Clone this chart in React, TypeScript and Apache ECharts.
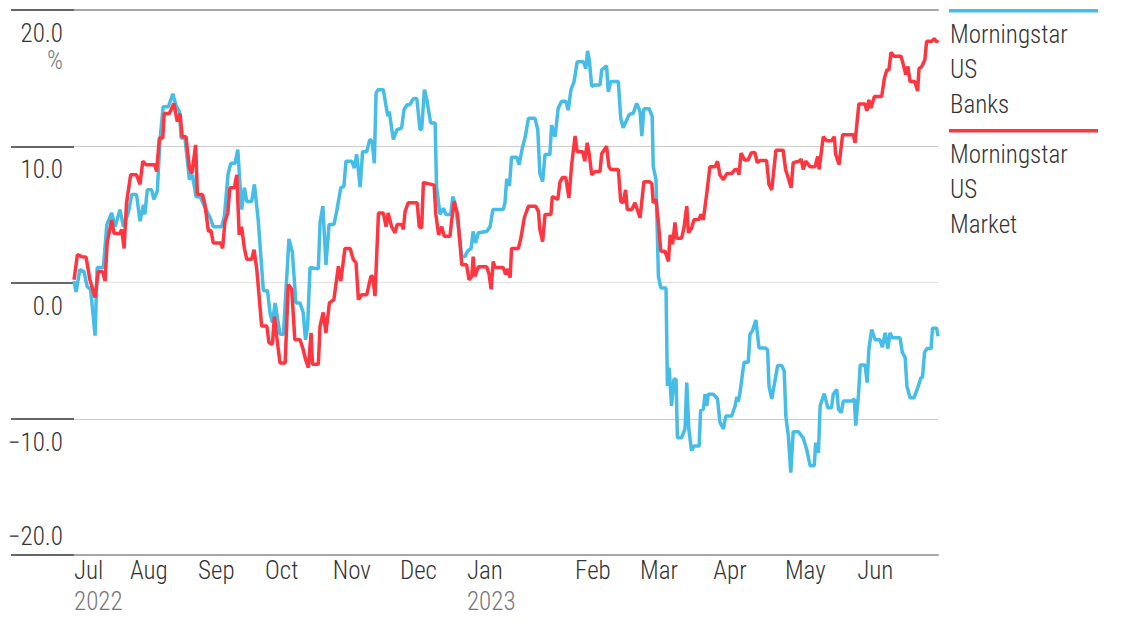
import React, { useEffect, useRef } from 'react';
import * as echarts from 'echarts';

const seriesNames = ['Morningstar US Banks', 'Morningstar US Market'];
const seriesColors = ['#45BDE6', '#FF3540'];
const yTicks = [-20, -10, 0, 10, 20];
const monthNames = ['Jul', 'Aug', 'Sep', 'Oct', 'Nov', 'Dec', 'Jan', 'Feb', 'Mar', 'Apr', 'May', 'Jun'];
const monthYears = ['2022', '', '', '', '', '', '2023', '', '', '', '', ''];
// trading-day index where each month label starts
const monthLabelDay = [0, 16.2, 35.9, 55.3, 74.9, 94.3, 113.7, 145.0, 163.8, 185.0, 205.7, 226.6];

// [trading day since 30 Jun 2022, cumulative return %]
const bankPoints = [[0,0.1],[0.6,-0.7],[1.7,0.95],[2.9,0.8],[3.8,-0.3],[4.8,-0.5],[6.1,-3.9],[6.7,1.1],[8.5,1.1],[9.5,4.25],[10.9,5.1],[11.9,4.1],[13.3,5.35],[14.3,4.1],[15.7,5.1],[16.7,6.45],[18.1,6.45],[19.1,4.5],[20.1,5.7],[20.5,5.0],[21.2,6.8],[22.5,6.8],[23.1,6.1],[24.1,6.7],[24.9,10.5],[25.8,12.9],[27.3,12.9],[28.6,13.85],[29.5,13.0],[30.5,12.55],[31.0,10.6],[32.1,10.6],[33.4,7.55],[34.3,7.9],[35.3,6.3],[36.5,6.3],[37.9,5.5],[39.4,4.75],[40.3,4.1],[42.7,4.1],[43.5,4.85],[44.6,8.0],[45.4,8.75],[46.6,8.75],[47.4,9.75],[48.0,7.3],[48.5,5.35],[49.3,6.95],[50.0,5.95],[51.4,5.95],[52.2,7.2],[53.3,4.6],[54.8,-0.6],[56.0,-0.6],[56.7,-2.2],[57.4,-2.95],[58.2,-1.5],[59.6,-3.8],[60.6,-3.8],[61.3,-0.75],[62.2,3.2],[63.2,2.2],[64.2,-1.5],[65.4,-1.5],[66.3,-2.2],[67.0,-4.2],[67.6,-3.2],[68.3,1.1],[70.7,1.0],[71.2,4.4],[72.0,5.6],[72.9,1.3],[73.8,4.25],[75.2,4.25],[76.0,5.2],[77.2,6.95],[78.1,7.05],[78.7,8.9],[80.4,8.9],[81.1,8.4],[81.8,9.4],[82.8,7.0],[83.5,9.6],[84.7,9.6],[85.6,10.5],[86.3,10.35],[86.9,8.75],[87.4,13.9],[88.0,14.15],[89.5,14.15],[90.8,12.2],[91.2,12.55],[92.4,10.5],[93.4,11.2],[94.8,11.35],[95.5,12.7],[96.4,13.05],[97.2,13.05],[98.2,13.5],[99.2,13.5],[100.1,11.25],[100.6,11.25],[101.4,14.15],[102.1,13.4],[103.2,11.7],[104.5,11.7],[104.9,7.05],[105.9,5.0],[106.9,5.45],[107.6,5.0],[109.0,5.0],[109.6,6.3],[110.2,5.85],[111.2,4.1],[112.2,1.9],[113.1,1.9],[113.9,2.3],[114.9,2.5],[115.5,3.75],[116.2,2.9],[117.0,3.65],[119.4,3.75],[120.4,4.1],[121.2,5.35],[124.2,5.35],[124.7,5.85],[125.2,7.6],[126.0,7.1],[126.6,9.2],[128.1,9.2],[128.8,8.65],[129.7,9.85],[130.5,10.6],[131.5,12.05],[133.4,12.05],[134.2,11.2],[134.8,8.0],[135.6,7.4],[136.3,9.4],[137.7,9.4],[138.2,11.55],[139.2,10.7],[140.1,12.8],[141.1,13.3],[142.3,13.3],[143.0,12.65],[143.8,14.15],[144.7,14.75],[145.6,16.2],[147.4,16.2],[148.1,15.7],[148.6,17.0],[149.1,16.35],[149.8,14.4],[150.8,14.5],[152.2,14.5],[152.7,15.6],[154.1,15.9],[154.6,14.0],[155.3,14.75],[157.5,14.75],[158.2,12.05],[158.9,11.35],[159.7,11.8],[160.7,12.35],[161.8,12.4],[162.8,13.15],[163.8,12.55],[164.3,10.75],[164.9,12.75],[166.4,12.75],[167.3,12.2],[167.6,8.5],[168.4,7.55],[169.1,0.45],[169.8,-0.4],[171.3,-0.4],[171.7,-7.6],[172.2,-6.25],[172.9,-9.05],[173.6,-7.1],[174.2,-7.1],[174.6,-11.4],[175.8,-11.4],[176.8,-10.75],[177.3,-7.35],[177.9,-10.75],[178.7,-12.35],[179.4,-12.0],[180.9,-12.0],[181.3,-9.4],[182.1,-9.3],[182.6,-8.2],[183.1,-9.05],[183.5,-8.2],[185.0,-8.2],[186.2,-8.55],[186.9,-10.25],[187.9,-10.75],[188.6,-9.8],[190.3,-9.8],[191.3,-9.05],[191.8,-8.4],[192.2,-8.75],[192.7,-8.1],[193.4,-6.75],[193.9,-5.85],[195.1,-5.85],[195.6,-3.8],[196.3,-3.55],[197.3,-2.75],[198.2,-4.8],[200.0,-4.8],[200.7,-4.95],[201.1,-7.6],[201.9,-8.55],[202.9,-7.1],[203.6,-6.1],[204.8,-6.1],[205.5,-6.5],[206.0,-9.9],[206.7,-11.25],[207.4,-13.95],[208.1,-10.95],[209.6,-10.95],[211.0,-11.4],[212.0,-12.25],[213.0,-13.45],[214.2,-13.45],[214.6,-11.75],[215.4,-12.5],[215.9,-9.05],[217.1,-8.15],[218.1,-9.2],[219.2,-9.2],[219.7,-8.2],[220.7,-7.85],[221.2,-9.3],[222.0,-9.55],[222.6,-8.7],[225.0,-8.7],[225.8,-8.55],[226.2,-10.5],[227.0,-8.2],[227.5,-6.05],[228.9,-6.05],[229.5,-7.35],[230.0,-4.9],[230.8,-3.45],[231.8,-4.2],[233.2,-4.2],[233.9,-4.75],[234.7,-3.7],[235.5,-4.85],[236.1,-3.7],[236.8,-4.05],[239.0,-4.05],[239.7,-5.15],[240.5,-5.5],[241.0,-7.6],[241.9,-8.45],[243.1,-8.45],[244.3,-7.6],[245.1,-6.95],[245.5,-7.0],[246.1,-5.15],[246.8,-4.85],[248.0,-4.85],[248.4,-3.35],[249.6,-3.35],[250,-3.95]];

const marketPoints = [[0,0.2],[1.0,2.05],[2.2,1.9],[3.5,1.85],[4.6,0.2],[6.1,-1.1],[7.0,0.8],[8.3,0.8],[9.0,0.1],[9.6,2.9],[10.9,4.6],[11.6,3.6],[13.3,3.6],[13.8,3.9],[14.5,2.5],[15.2,5.85],[16.4,7.9],[18.1,7.9],[19.1,7.2],[19.9,8.9],[20.8,8.65],[23.4,8.65],[23.9,8.15],[24.7,10.6],[25.7,10.6],[26.1,12.4],[27.6,12.4],[28.9,13.15],[29.9,11.8],[30.7,12.4],[31.3,10.7],[32.4,10.7],[33.4,8.4],[34.1,8.0],[35.2,10.1],[35.7,6.45],[37.2,6.45],[37.9,5.7],[38.9,3.75],[39.6,3.85],[40.3,2.9],[42.5,2.9],[43.0,2.5],[43.7,4.5],[44.5,5.1],[45.1,6.95],[46.4,6.95],[47.1,7.9],[47.8,3.5],[48.5,4.1],[49.3,2.5],[50.0,1.7],[51.4,1.7],[52.1,2.4],[52.9,0.95],[54.3,-3.2],[55.8,-3.2],[56.4,-4.4],[57.4,-4.55],[58.0,-2.5],[58.7,-4.05],[59.6,-5.9],[61.1,-5.9],[62.0,-0.15],[63.0,-0.5],[63.9,-4.2],[65.4,-4.2],[66.3,-4.9],[67.0,-5.65],[67.8,-6.25],[68.6,-3.7],[69.0,-6.0],[70.7,-6.0],[71.2,-3.2],[72.1,-2.2],[72.9,-3.7],[73.9,-1.5],[75.2,-1.25],[76.5,1.2],[77.2,0.1],[78.4,2.5],[79.9,2.5],[80.8,1.7],[81.6,1.45],[82.3,-1.25],[83.2,-0.9],[84.7,-0.9],[85.9,0.45],[86.4,0.45],[87.1,-1.0],[88.1,5.1],[89.5,5.1],[90.3,4.1],[90.9,5.1],[91.9,4.1],[92.9,3.65],[93.5,4.25],[94.8,4.25],[95.3,3.9],[95.8,5.2],[96.7,5.85],[99.3,5.85],[99.9,4.1],[100.6,4.0],[101.1,7.35],[104.2,7.15],[104.7,5.0],[105.5,3.5],[106.4,4.1],[107.1,3.4],[108.8,3.4],[109.3,4.6],[110.0,5.95],[111.0,5.0],[112.2,1.3],[113.6,1.3],[114.3,0.2],[115.1,0.45],[115.5,1.9],[116.0,0.45],[117.0,1.15],[119.4,1.15],[120.1,0.6],[120.7,-0.5],[121.3,1.55],[121.8,1.1],[124.2,1.1],[124.9,0.6],[125.5,1.0],[126.2,0.35],[126.6,2.5],[128.6,2.5],[129.3,3.25],[130.3,4.75],[131.5,5.6],[133.6,5.6],[134.4,5.2],[134.8,3.9],[135.6,3.0],[136.3,5.0],[138.0,5.0],[138.4,6.3],[140.0,6.1],[140.6,7.35],[141.3,7.7],[142.3,7.7],[143.2,6.2],[144.0,8.65],[145.0,10.75],[145.6,9.6],[147.2,9.6],[147.8,8.9],[148.5,10.25],[149.1,9.4],[149.8,7.9],[150.8,8.15],[152.2,8.15],[152.7,9.45],[154.1,10.0],[154.8,8.5],[155.3,8.3],[157.5,8.3],[158.2,5.95],[158.9,5.85],[159.6,6.8],[160.1,5.35],[161.4,5.35],[162.3,5.85],[163.0,5.35],[163.8,4.75],[164.9,7.4],[166.5,7.4],[167.2,7.25],[167.6,5.85],[168.4,6.1],[169.1,4.4],[169.8,2.3],[171.0,2.3],[172.0,1.55],[172.5,3.5],[173.2,2.8],[173.9,4.4],[174.4,3.25],[175.8,3.25],[176.5,4.0],[177.3,5.6],[177.8,3.65],[178.7,4.0],[179.4,4.6],[180.9,4.65],[181.4,5.0],[182.1,4.6],[183.1,6.55],[184.0,8.5],[185.5,8.5],[186.2,8.9],[186.9,7.9],[187.9,7.55],[188.9,8.0],[190.3,8.0],[191.3,8.3],[192.0,8.3],[192.4,7.9],[193.0,9.5],[194.0,9.0],[195.1,9.0],[195.9,9.5],[197.0,9.55],[197.7,8.8],[198.5,8.95],[200.4,8.95],[201.1,7.2],[201.9,6.8],[203.1,9.7],[205.2,9.7],[205.9,8.3],[206.7,7.65],[207.5,6.95],[208.1,8.8],[209.8,8.9],[210.4,9.05],[211.0,8.3],[211.7,8.9],[213.0,8.5],[214.4,8.5],[215.2,9.25],[215.6,8.3],[216.8,10.7],[217.8,10.4],[219.2,10.4],[220.0,10.7],[220.4,9.4],[221.4,8.65],[222.4,10.85],[225.5,10.85],[226.0,10.25],[227.1,13.1],[228.9,13.1],[229.4,12.6],[230.0,13.4],[230.6,12.8],[231.6,13.65],[233.7,13.65],[234.5,15.0],[235.2,15.6],[235.8,15.6],[236.4,16.9],[237.3,16.6],[239.3,16.6],[240.0,15.95],[240.7,15.25],[241.3,15.85],[241.9,14.75],[243.3,14.75],[244.1,14.05],[244.5,15.7],[245.3,15.85],[246.2,16.35],[246.7,17.7],[248.2,17.7],[248.9,17.9],[249.6,17.65],[250,17.8]];

const FONT = "'Roboto Condensed', 'Liberation Sans Narrow', 'DejaVu Sans Condensed', 'Liberation Sans', sans-serif";

export default function App() {
  const ref = useRef<HTMLDivElement>(null);
  useEffect(() => {
    if (!ref.current) return;
    const chart = echarts.init(ref.current, undefined, { renderer: 'svg' });
    const yMin = yTicks[0];
    const yMax = yTicks[yTicks.length - 1];
    const fmtY = (v: number) => (v < 0 ? '\u2212' : '') + Math.abs(v).toFixed(1);
    const nearestMonth = (v: number) => {
      let best = 0;
      monthLabelDay.forEach((d, i) => { if (Math.abs(d - v) < Math.abs(monthLabelDay[best] - v)) best = i; });
      return best;
    };
    const legendGraphics: any[] = [];
    seriesNames.forEach((name, i) => {
      const top = 9 + i * 120;
      legendGraphics.push({
        type: 'rect', left: 949, top, shape: { x: 0, y: 0, width: 149, height: 3.5 },
        style: { fill: seriesColors[i] },
      });
      legendGraphics.push({
        type: 'text', left: 950, top: top + 8,
        style: { text: name.split(' ').join('\n'), fontSize: 25, fontWeight: 300, lineHeight: 35, fontFamily: FONT, fill: '#333' },
      });
    });
    const txt = (color: string, lh: number) => ({ fontSize: 25, fontWeight: 300, lineHeight: lh, color, fontFamily: FONT });
    chart.setOption({
      animation: false,
      grid: { left: 74, right: 192, top: 10, bottom: 81, containLabel: false, outerBoundsMode: 'none' },
      xAxis: [
        {
          type: 'value', min: 0, max: 250,
          axisLine: { show: true, onZero: false, lineStyle: { color: '#a8a8a8', width: 2 } },
          axisTick: { show: false },
          splitLine: { show: false },
          axisLabel: {
            customValues: monthLabelDay,
            align: 'left', verticalAlign: 'top', margin: 2,
            formatter: (v: number) => {
              const i = nearestMonth(v);
              return monthYears[i] ? `{m|${monthNames[i]}}\n{y|${monthYears[i]}}` : `{m|${monthNames[i]}}`;
            },
            rich: {
              m: { ...txt('#333', 26), align: 'left' },
              y: { ...txt('#777', 36), align: 'left' },
            },
          },
        },
        {
          type: 'value', min: 0, max: 250, position: 'top',
          axisLine: { show: true, onZero: false, lineStyle: { color: '#a8a8a8', width: 2 } },
          axisTick: { show: false }, axisLabel: { show: false }, splitLine: { show: false },
        },
      ],
      yAxis: {
        type: 'value', min: yMin, max: yMax, interval: 10,
        offset: 11,
        axisLine: { show: false },
        axisTick: { show: true, length: 63, lineStyle: { color: '#666', width: 2 } },
        splitLine: { show: true, lineStyle: { color: ['#a8a8a8', '#cccccc', '#e0e0e0', '#cccccc', '#a8a8a8'], width: 1 } },
        axisLabel: {
          margin: 0, verticalAlign: 'middle', align: 'right',
          formatter: (v: number) => {
            const s = fmtY(v);
            if (v === yMax) return `{g3| }\n{v|${s}}\n{p|%}`;
            if (v === yMin) return `{v|${s}}\n{g2| }`;
            return `{g1| }\n{v|${s}}`;
          },
          rich: {
            v: { ...txt('#333', 27), align: 'right' },
            p: { ...txt('#777', 27), align: 'right' },
            g1: { fontSize: 4, lineHeight: 47 },
            g2: { fontSize: 4, lineHeight: 37 },
            g3: { fontSize: 4, lineHeight: 74 },
          },
        },
      },
      graphic: legendGraphics,
      series: [
        {
          name: seriesNames[0], type: 'line', data: bankPoints, showSymbol: false,
          lineStyle: { color: seriesColors[0], width: 3.5 }, itemStyle: { color: seriesColors[0] }, z: 2,
        },
        {
          name: seriesNames[1], type: 'line', data: marketPoints, showSymbol: false,
          lineStyle: { color: seriesColors[1], width: 3.5 }, itemStyle: { color: seriesColors[1] }, z: 3,
        },
      ],
    });
    return () => chart.dispose();
  }, []);
  return <div ref={ref} style={{ position: 'fixed', left: 0, top: 0, width: 1130, height: 636, background: '#fff' }} />;
}
